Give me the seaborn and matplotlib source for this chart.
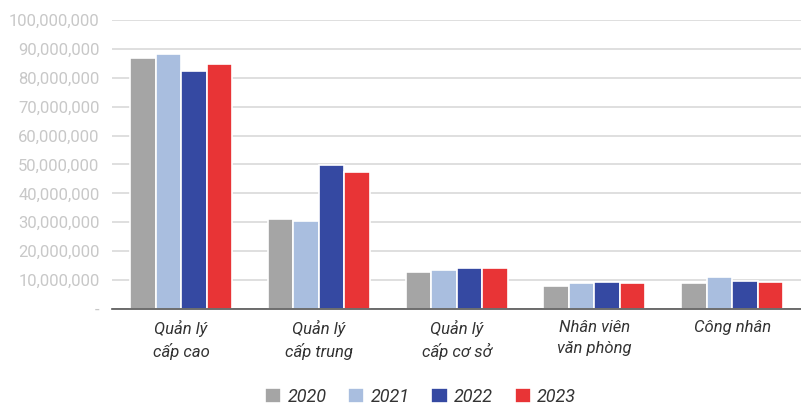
import matplotlib
matplotlib.use("Agg")
import matplotlib.pyplot as plt
import matplotlib.ticker as mticker
import seaborn as sns
import pandas as pd
from matplotlib import font_manager

categories = ["Quản lý\ncấp cao", "Quản lý\ncấp trung", "Quản lý\ncấp cơ sở", "Nhân viên\nvăn phòng", "Công nhân"]
years = ["2020", "2021", "2022", "2023"]
v2020 = [86.9e6, 31.0e6, 12.8e6, 8.0e6, 9.0e6]
v2021 = [88.1e6, 30.6e6, 13.6e6, 8.9e6, 11.0e6]
v2022 = [82.4e6, 49.8e6, 14.3e6, 9.2e6, 9.8e6]
v2023 = [84.8e6, 47.3e6, 14.2e6, 8.9e6, 9.3e6]
colors = ["#A5A5A5", "#A9BEDF", "#3549A2", "#E83436"]

rows = []
for y, vals in zip(years, [v2020, v2021, v2022, v2023]):
    for c, v in zip(categories, vals):
        rows.append({"cat": c, "year": y, "value": v})
df = pd.DataFrame(rows)

sns.set_style("white")
plt.rcParams["font.family"] = ["Roboto", "DejaVu Sans"]

fig = plt.figure(figsize=(8.01, 4.05), dpi=100)
ax = fig.add_axes([0.14, 0.237, 0.86, 0.714])
sns.barplot(data=df, x="cat", y="value", hue="year", palette=colors, width=0.74,
            edgecolor="white", linewidth=1.2, saturation=1, ax=ax, legend=True)

ax.set_ylim(0, 100e6)
ax.set_xlim(-0.5, 4.5)
ax.yaxis.set_major_locator(mticker.MultipleLocator(10e6))
ax.yaxis.set_major_formatter(mticker.FuncFormatter(lambda v, p: "-" if v == 0 else f"{int(v):,}"))
ax.grid(axis="y", color="#D9D9D9", linewidth=1.2)
ax.set_axisbelow(True)
for s in ["top", "right", "left"]:
    ax.spines[s].set_visible(False)
ax.spines["bottom"].set_color("#555555")
ax.spines["bottom"].set_linewidth(1.2)
ax.tick_params(axis="y", length=0, pad=9, labelsize=12, labelcolor="#C8C8C8")
ax.tick_params(axis="x", length=0, pad=8, labelsize=12)
for t in ax.get_xticklabels():
    t.set_fontstyle("italic")
    t.set_color("#333333")
    t.set_linespacing(1.45)
ax.set_xlabel("")
ax.set_ylabel("")

h, l = ax.get_legend_handles_labels()
ax.get_legend().remove()
fig.legend(h, l, loc="center", bbox_to_anchor=(0.525, 0.02), ncol=4, frameon=False,
           prop={"style": "italic", "size": 13}, handlelength=0.9, handleheight=0.9,
           handletextpad=0.35, columnspacing=1.2, labelcolor="#333333")

fig.savefig("out.png", dpi=100)
